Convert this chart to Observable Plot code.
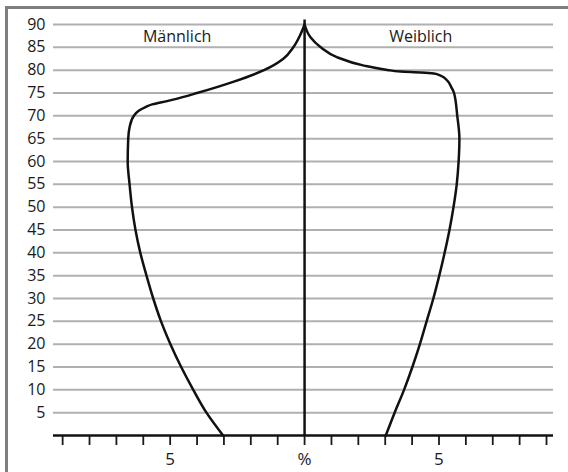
<!DOCTYPE html>
<html><head><meta charset="utf-8">
<script src="https://cdn.jsdelivr.net/npm/d3@7"></script>
<script src="https://cdn.jsdelivr.net/npm/@observablehq/plot@0.6"></script>
<style>
body{margin:0;background:#fff;}
#wrap{position:relative;width:568px;height:472px;overflow:hidden;}
#frame{position:absolute;left:5px;top:6px;right:-10px;bottom:-10px;border-top:3px solid #7f7f7f;border-left:3px solid #7f7f7f;}
#chart{position:absolute;left:0;top:0;}
</style></head>
<body><div id="wrap"><div id="frame"></div><div id="chart"></div></div>
<script>
// Male (left side), percent by age
const maleAge = [0, 5, 10, 15, 20, 25, 30, 35, 40, 45, 50, 55, 60, 65, 67.5, 70, 71.1, 71.9, 72.5, 72.9, 73.5, 75, 77.5, 80, 82.5, 85, 87.6, 90];
const malePct = [3.03, 3.65, 4.14, 4.59, 4.99, 5.34, 5.63, 5.88, 6.11, 6.29, 6.42, 6.51, 6.58, 6.56, 6.51, 6.35, 6.17, 5.92, 5.67, 5.36, 4.93, 4.0, 2.63, 1.51, 0.79, 0.42, 0.17, 0];
// Female (right side), percent by age
const femaleAge = [0, 5, 10, 15, 20, 25, 30, 35, 40, 45, 50, 55, 60, 65, 70, 75, 76.25, 77.7, 78.8, 79.25, 79.5, 79.7, 80.06, 81, 82.8, 85, 87.2, 90];
const femalePct = [3.02, 3.35, 3.70, 4.01, 4.29, 4.54, 4.79, 5.01, 5.21, 5.39, 5.54, 5.66, 5.73, 5.76, 5.68, 5.56, 5.46, 5.31, 5.06, 4.81, 4.32, 3.57, 3.08, 2.21, 1.22, 0.6, 0.22, 0];

const yTicks = [5, 10, 15, 20, 25, 30, 35, 40, 45, 50, 55, 60, 65, 70, 75, 80, 85, 90];
const xTicks = [-9, -8, -7, -6, -5, -4, -3, -2, -1, 0, 1, 2, 3, 4, 5, 6, 7, 8, 9];
const xLabelValues = [-5, 0, 5];
const xLabelTexts = ["5", "%", "5"];
const sideLabels = ["Männlich", "Weiblich"];

const male = maleAge.map((a, i) => ({age: a, pct: -malePct[i]}));
const female = femaleAge.map((a, i) => ({age: a, pct: femalePct[i]}));
const xLabelMap = new Map(xLabelValues.map((v, i) => [v, xLabelTexts[i]]));

const plot = Plot.plot({
  width: 568, height: 472,
  marginLeft: 53, marginRight: 15, marginTop: 24, marginBottom: 37,
  style: {fontFamily: "'Open Sans', sans-serif", fontSize: "16px", color: "#1a1a1a", background: "transparent"},
  x: {domain: [-9.34, 9.26], label: null},
  y: {domain: [0, 90], label: null},
  marks: [
    Plot.gridY(yTicks, {stroke: "#b0b0b0", strokeOpacity: 1, strokeWidth: 2}),
    Plot.axisY(yTicks, {tickSize: 0, tickPadding: 8, fontSize: 16, label: null}),
    Plot.axisX(xTicks, {tickSize: 10, tickPadding: 7, fontSize: 17, strokeWidth: 1.8, label: null,
      tickFormat: d => xLabelMap.get(d) ?? ""}),
    Plot.ruleY([0], {stroke: "#111", strokeWidth: 2.5}),
    Plot.ruleX([0], {y1: 0, y2: 91, stroke: "#111", strokeWidth: 2.5}),
    Plot.line(male, {x: "pct", y: "age", curve: "monotone-y", stroke: "#111", strokeWidth: 2.5}),
    Plot.line(female, {x: "pct", y: "age", curve: "monotone-y", stroke: "#111", strokeWidth: 2.5}),
    Plot.text(sideLabels, {x: [-4.74, 4.32], y: [87.2, 87.2], text: d => d, fontSize: 16, fill: "#1a1a1a"})
  ]
});
document.getElementById("chart").appendChild(plot);
</script>
</body></html>
